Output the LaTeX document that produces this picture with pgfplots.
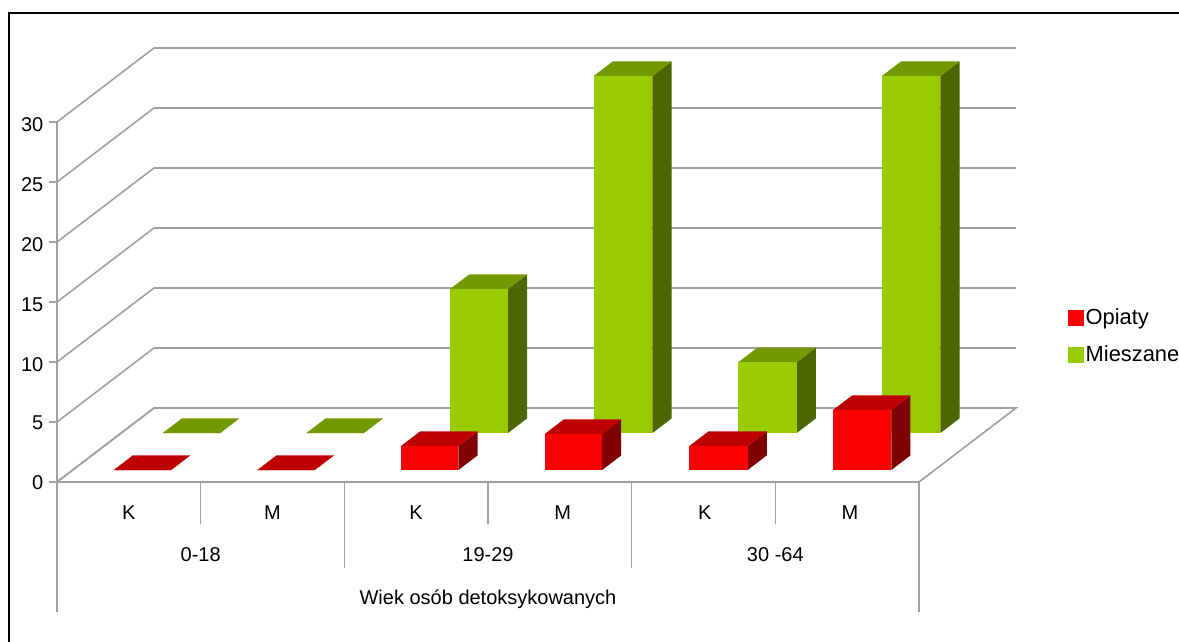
\documentclass[border=0pt]{standalone}
\usepackage{pgfplots}
\pgfplotsset{compat=1.18}
\usepackage{fontspec}
\setmainfont{Liberation Sans}

\definecolor{gridgray}{HTML}{A0A0A0}
\definecolor{redfront}{HTML}{FF0000}
\definecolor{redtop}{HTML}{BF0000}
\definecolor{redside}{HTML}{800000}
\definecolor{greenfront}{HTML}{99CC00}
\definecolor{greentop}{HTML}{739900}
\definecolor{greenside}{HTML}{4D6600}

% One cuboid: {colour prefix}{x left}{x right}{depth front}{depth back}{value}
\newcommand{\cuboid}[6]{%
  \addplot3[forget plot,draw=none,fill=#1side] coordinates {(#3,#4,0) (#3,#5,0) (#3,#5,#6) (#3,#4,#6)} -- cycle;
  \addplot3[forget plot,draw=none,fill=#1top] coordinates {(#2,#4,#6) (#3,#4,#6) (#3,#5,#6) (#2,#5,#6)} -- cycle;
  \addplot3[forget plot,draw=none,fill=#1front] coordinates {(#2,#4,0) (#3,#4,0) (#3,#4,#6) (#2,#4,#6)} -- cycle;
}
% Row of the Opiaty series (front) and of the Mieszane series (back)
\newcommand{\opiaty}[3]{\cuboid{red}{#1}{#2}{0.162}{0.359}{#3}}
\newcommand{\mieszane}[3]{\cuboid{green}{#1}{#2}{0.662}{0.859}{#3}}
% Grey chart line in axis coordinates
\newcommand{\chartline}[1]{\addplot3[forget plot,gridgray,line width=1.2pt] coordinates {#1};}

\begin{document}
\begin{tikzpicture}
\begin{axis}[
  x={(107.75pt,0pt)}, y={(72.75pt,55.5pt)}, z={(0pt,9pt)},
  xmin=0, xmax=6, ymin=0, ymax=1, zmin=0, zmax=30,
  clip=false,
  font=\fontsize{15pt}{17pt}\selectfont,
  axis line style={draw=none},
  ztick={0,5,...,30},
  zmajorgrids=true,
  major grid style={gridgray,line width=1.2pt},
  ytick=\empty,
  xtick={0.5,1.5,2.5,3.52,4.51,5.52},
  xticklabels={K,M,K,M,K,M},
  tick style={draw=none},
  tick align=outside,
  major tick length=6pt,
  x tick label style={xshift=9pt,yshift=-11pt,font=\fontsize{15pt}{17pt}\selectfont},
  z tick label style={xshift=-2pt,yshift=5.7pt,font=\fontsize{15pt}{17pt}\selectfont},
  /pgf/number format/assume math mode=true,
  xlabel={Wiek osób detoksykowanych},
  xlabel style={at={(axis cs:3,0,-9.75)},anchor=center,font=\fontsize{15pt}{17pt}\selectfont},
  legend style={draw=none,fill=none,anchor=north west,at={(1.0535,0.406)},
    font=\fontsize{16.4pt}{18pt}\selectfont,row sep=10.2pt,inner sep=0pt},
  legend cell align=left,
  legend image code/.code={\fill[#1] (0pt,-5.6pt) rectangle (11.2pt,5.6pt);},
]
  % Floor, left edge, value ticks and separators of the category levels
  \chartline{(0,0,0) (6,0,0) (6,1,0) (0,1,0) (0,0,0)}
  \chartline{(0,0,30) (0,0,-10.83)}
  \chartline{(-0.055,0,0) (0,0,0)}
  \chartline{(-0.055,0,5) (0,0,5)}
  \chartline{(-0.055,0,10) (0,0,10)}
  \chartline{(-0.055,0,15) (0,0,15)}
  \chartline{(-0.055,0,20) (0,0,20)}
  \chartline{(-0.055,0,25) (0,0,25)}
  \chartline{(-0.055,0,30) (0,0,30)}
  \chartline{(1,0,0) (1,0,-3.5)}
  \chartline{(2,0,0) (2,0,-7.17)}
  \chartline{(3,0,0) (3,0,-3.5)}
  \chartline{(4,0,0) (4,0,-7.17)}
  \chartline{(5,0,0) (5,0,-3.5)}
  \chartline{(6,0,0) (6,0,-10.83)}

  % Mieszane
  \mieszane{0.289}{0.689}{0}
  \mieszane{1.289}{1.689}{0}
  \mieszane{2.289}{2.692}{12}
  \mieszane{3.289}{3.698}{29.75}
  \mieszane{4.295}{4.702}{5.9}
  \mieszane{5.295}{5.702}{29.75}
  % Opiaty
  \opiaty{0.285}{0.685}{0}
  \opiaty{1.285}{1.685}{0}
  \opiaty{2.285}{2.685}{2}
  \opiaty{3.285}{3.685}{3}
  \opiaty{4.292}{4.698}{2}
  \opiaty{5.292}{5.698}{5}

  \addlegendimage{redfront}
  \addlegendentry{Opiaty}
  \addlegendimage{greenfront}
  \addlegendentry{Mieszane}

  % Age groups
  \node[anchor=center] at (axis cs:1,0,-6.05) {0-18};
  \node[anchor=center] at (axis cs:3,0,-6.05) {19-29};
  \node[anchor=center] at (axis cs:5,0,-6.05) {30 -64};

  \coordinate (O) at (axis cs:0,0,0);
\end{axis}
% Page area and the frame around the left and top of the chart
\pgfresetboundingbox
\useasboundingbox ([shift={(-42.75pt,-120pt)}]O) rectangle ([shift={(841.5pt,361.5pt)}]O);
\draw[black,line width=1.5pt] ([shift={(-36pt,-120pt)}]O) -- ([shift={(-36pt,352.1pt)}]O) -- ([shift={(841.5pt,352.1pt)}]O);
\end{tikzpicture}
\end{document}
